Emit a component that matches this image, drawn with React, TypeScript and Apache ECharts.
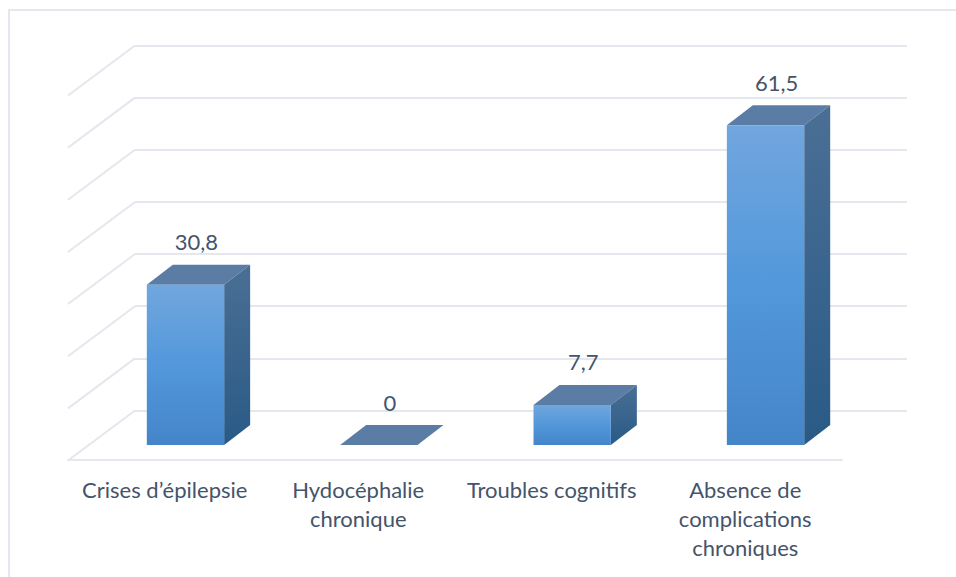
import React, { useEffect, useRef } from "react";
import * as echarts from "echarts";

const categories = [
  "Crises d’épilepsie",
  "Hydocéphalie\nchronique",
  "Troubles cognitifs",
  "Absence de\ncomplications\nchroniques",
];
const percentages = [30.8, 0, 7.7, 61.5];
const wallTicks = [0, 10, 20, 30, 40, 50, 60, 70];

const GRID_LINE = "#e4e7ed";
const TEXT = "#44546a";
const FONT = "Lato, 'Noto Sans', sans-serif";

// Horizontal shift between a bar's front face and its back face.
const BAR_DEPTH = { x: 26, y: -20 };
// Horizontal shift between the back wall and the front edge of the floor.
const WALL_DEPTH = { x: -67, y: 50 };

const formatValue = (v: number) => String(v).replace(".", ",");

function renderBar(params: any, api: any) {
  const idx = api.value(0);
  const value = api.value(1);
  const [cx, top] = api.coord([idx, value]);
  const [, base] = api.coord([idx, 0]);
  const half = (api.size([1, 0])[0] * 0.4) / 2;
  const l = cx - half;
  const r = cx + half;
  const dx = BAR_DEPTH.x;
  const dy = BAR_DEPTH.y;
  const children: any[] = [
    {
      type: "polygon",
      shape: { points: [[l, top], [r, top], [r + dx, top + dy], [l + dx, top + dy]] },
      style: { fill: "#5a7ca5" },
    },
  ];
  if (base - top > 0.5) {
    children.push(
      {
        type: "polygon",
        shape: { points: [[r, top], [r + dx, top + dy], [r + dx, base + dy], [r, base]] },
        style: {
          fill: new echarts.graphic.LinearGradient(0, 0, 0, 1, [
            { offset: 0, color: "#4a6f95" },
            { offset: 1, color: "#295a86" },
          ]),
        },
      },
      {
        type: "rect",
        shape: { x: l, y: top, width: r - l, height: base - top },
        style: {
          fill: new echarts.graphic.LinearGradient(0, 0, 0, 1, [
            { offset: 0, color: "#71a6de" },
            { offset: 0.5, color: "#5298db" },
            { offset: 1, color: "#4485c8" },
          ]),
        },
      }
    );
  }
  children.push({
    type: "text",
    x: cx + 11,
    y: top + dy - 23,
    style: {
      text: formatValue(value),
      fill: TEXT,
      font: `22px ${FONT}`,
      align: "center",
      verticalAlign: "middle",
    },
  });
  return { type: "group", children };
}

// Slanted segment joining each back-wall gridline to the left end of the floor plane.
function renderSideLine(params: any, api: any) {
  const [x, y] = api.coord([0, api.value(0)]);
  return {
    type: "line",
    shape: { x1: x, y1: y, x2: x + WALL_DEPTH.x, y2: y + WALL_DEPTH.y },
    style: { stroke: GRID_LINE, lineWidth: 2 },
  };
}

export default function App() {
  const ref = useRef<HTMLDivElement>(null);

  useEffect(() => {
    document.body.style.margin = "0";
    const chart = echarts.init(ref.current, null, { renderer: "svg" });
    chart.setOption({
      animation: false,
      backgroundColor: "#ffffff",
      graphic: [
        {
          type: "polyline",
          z: 0,
          shape: { points: [[9, 577], [9, 10], [956, 10]] },
          style: { fill: "none", stroke: GRID_LINE, lineWidth: 2 },
        },
      ],
      grid: [
        { left: 135, top: 45.5, width: 772, height: 365 },
        { left: 68, top: 95, width: 774, height: 365 },
        { left: 88.8, top: 81, width: 773.4, height: 364 },
      ],
      xAxis: [
        { gridIndex: 0, type: "value", min: 0, max: 1, show: false },
        {
          gridIndex: 1,
          type: "category",
          data: categories,
          axisLine: { show: true, lineStyle: { color: GRID_LINE, width: 2 } },
          axisTick: { show: false },
          axisLabel: {
            color: TEXT,
            fontFamily: FONT,
            fontSize: 22,
            lineHeight: 29,
            margin: 15,
            interval: 0,
          },
        },
        { gridIndex: 2, type: "category", data: categories, show: false },
      ],
      yAxis: [
        {
          gridIndex: 0,
          type: "value",
          min: 0,
          max: 70,
          interval: 10,
          axisLine: { show: false },
          axisTick: { show: false },
          axisLabel: { show: false },
          splitLine: { show: true, lineStyle: { color: GRID_LINE, width: 2 } },
        },
        { gridIndex: 1, type: "value", min: 0, max: 70, show: false },
        { gridIndex: 2, type: "value", min: 0, max: 70, show: false },
      ],
      series: [
        {
          type: "custom",
          xAxisIndex: 0,
          yAxisIndex: 0,
          clip: false,
          silent: true,
          data: wallTicks.map((t) => [t]),
          encode: { y: 0 },
          renderItem: renderSideLine,
        },
        {
          type: "custom",
          xAxisIndex: 2,
          yAxisIndex: 2,
          clip: false,
          data: percentages.map((v, i) => [i, v]),
          encode: { x: 0, y: 1 },
          renderItem: renderBar,
        },
      ],
    });
    return () => chart.dispose();
  }, []);

  return (
    <div
      ref={ref}
      style={{ position: "absolute", left: 0, top: 0, width: 956, height: 577 }}
    />
  );
}
